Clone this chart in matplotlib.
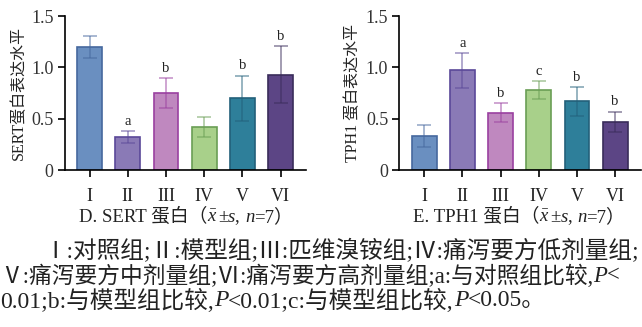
import numpy as np
import matplotlib
matplotlib.use('Agg')
import matplotlib.pyplot as plt

groups = ['I', 'II', 'III', 'IV', 'V', 'VI']

sert_mean = [1.20, 0.32, 0.75, 0.42, 0.70, 0.93]
sert_sd = [0.11, 0.06, 0.15, 0.10, 0.22, 0.28]
sert_mark = ['', 'a', 'b', '', 'b', 'b']

tph1_mean = [0.33, 0.97, 0.56, 0.78, 0.67, 0.47]
tph1_sd = [0.11, 0.17, 0.09, 0.09, 0.14, 0.10]
tph1_mark = ['', 'a', 'b', 'c', 'b', 'b']

fills = ['#6a8fc0', '#8a7ab6', '#bf88bf', '#a8d08a', '#2e7f9a', '#5c4585']
edges = ['#46689e', '#5a4898', '#9a40a0', '#6a9e55', '#23607a', '#3a2c5a']

# (text, italic?) pieces, so that P, s, n can be italic while CJK falls back
caption_lines = [
    [('Ⅰ:对照组;Ⅱ:模型组;Ⅲ:匹维溴铵组;Ⅳ:痛泻要方低剂量组;', 0)],
    [('Ⅴ:痛泻要方中剂量组;Ⅵ:痛泻要方高剂量组;a:与对照组比较,', 0), ('P', 1), ('<', 0)],
    [('0.01;b:与模型组比较,', 0), ('P', 1), ('<0.01;c:与模型组比较,', 0), ('P', 1), ('<0.05。', 0)],
]

SERIF = ['Liberation Serif', 'Noto Sans CJK SC']
plt.rcParams['font.family'] = SERIF
plt.rcParams['mathtext.fontset'] = 'custom'
plt.rcParams['mathtext.it'] = 'Liberation Serif:italic'
plt.rcParams['mathtext.rm'] = 'Liberation Serif'

W, H = 642, 327
fig = plt.figure(figsize=(6.42, 3.27), dpi=100)
renderer = fig.canvas.get_renderer()


def seg_text(x_px, y_px, segs, size, center=False):
    # lay pieces side by side in pixel units
    arts = []
    x = x_px
    for s, it in segs:
        t = fig.text(x / W, 1 - y_px / H, s, fontsize=size, va='center', ha='left',
                     style='italic' if it else 'normal', color='#222222')
        x += t.get_window_extent(renderer).width
        arts.append(t)
    if center:
        shift = (x - x_px) / 2
        for t in arts:
            px, py = t.get_position()
            t.set_position((px - shift / W, py))
    return arts


def panel(rect, means, sds, marks, ylabel, xlabel_segs, xl_center):
    ax = fig.add_axes(rect)
    x = np.arange(len(means))
    ax.bar(x, means, width=0.65, color=fills, edgecolor=edges, linewidth=1.2, zorder=2)
    for i in range(len(means)):
        ax.errorbar(x[i], means[i], yerr=sds[i], color=edges[i], alpha=0.55,
                    capsize=5, elinewidth=1.2, capthick=1.2, zorder=3)
        if marks[i]:
            ax.text(x[i], means[i] + sds[i] + 0.03, marks[i], ha='center', va='bottom',
                    fontsize=10.5, color='#222222')
    ax.set_xlim(-0.65, 5.67)
    ax.set_ylim(0, 1.5)
    ax.set_yticks([0, 0.5, 1.0, 1.5])
    ax.set_yticklabels(['0', '0.5', '1.0', '1.5'], fontsize=13, color='#333333')
    ax.set_xticks(x)
    ax.set_xticklabels(groups, fontsize=13, color='#222222')
    ax.spines['top'].set_visible(False)
    ax.spines['right'].set_visible(False)
    ax.spines['left'].set_linewidth(1.2)
    ax.spines['bottom'].set_linewidth(1.2)
    ax.tick_params(axis='both', direction='out', length=5, width=1.2, pad=3)
    ax.tick_params(axis='x', pad=8)
    ax.set_ylabel(ylabel, fontsize=11.5, color='#222222', labelpad=3)
    seg_text(xl_center, 217, xlabel_segs, 13.5, center=True)
    return ax


panel([0.101, 0.480, 0.376, 0.471], sert_mean, sert_sd, sert_mark,
      'SERT蛋白表达水平',
      [('D. SERT 蛋白（', 0), ('$\\bar{x}$', 0), ('±', 0), ('s', 1), (', ', 0), ('n', 1), ('=7）', 0)],
      186)
panel([0.622, 0.480, 0.376, 0.471], tph1_mean, tph1_sd, tph1_mark,
      'TPH1 蛋白表达水平',
      [('E. TPH1 蛋白（', 0), ('$\\bar{x}$', 0), ('±', 0), ('s', 1), (', ', 0), ('n', 1), ('=7）', 0)],
      519)

seg_text(43, 251, caption_lines[0], 17)
seg_text(0, 276, caption_lines[1], 16.4)
seg_text(0, 301, caption_lines[2], 17)

fig.savefig('out.png', dpi=100)
